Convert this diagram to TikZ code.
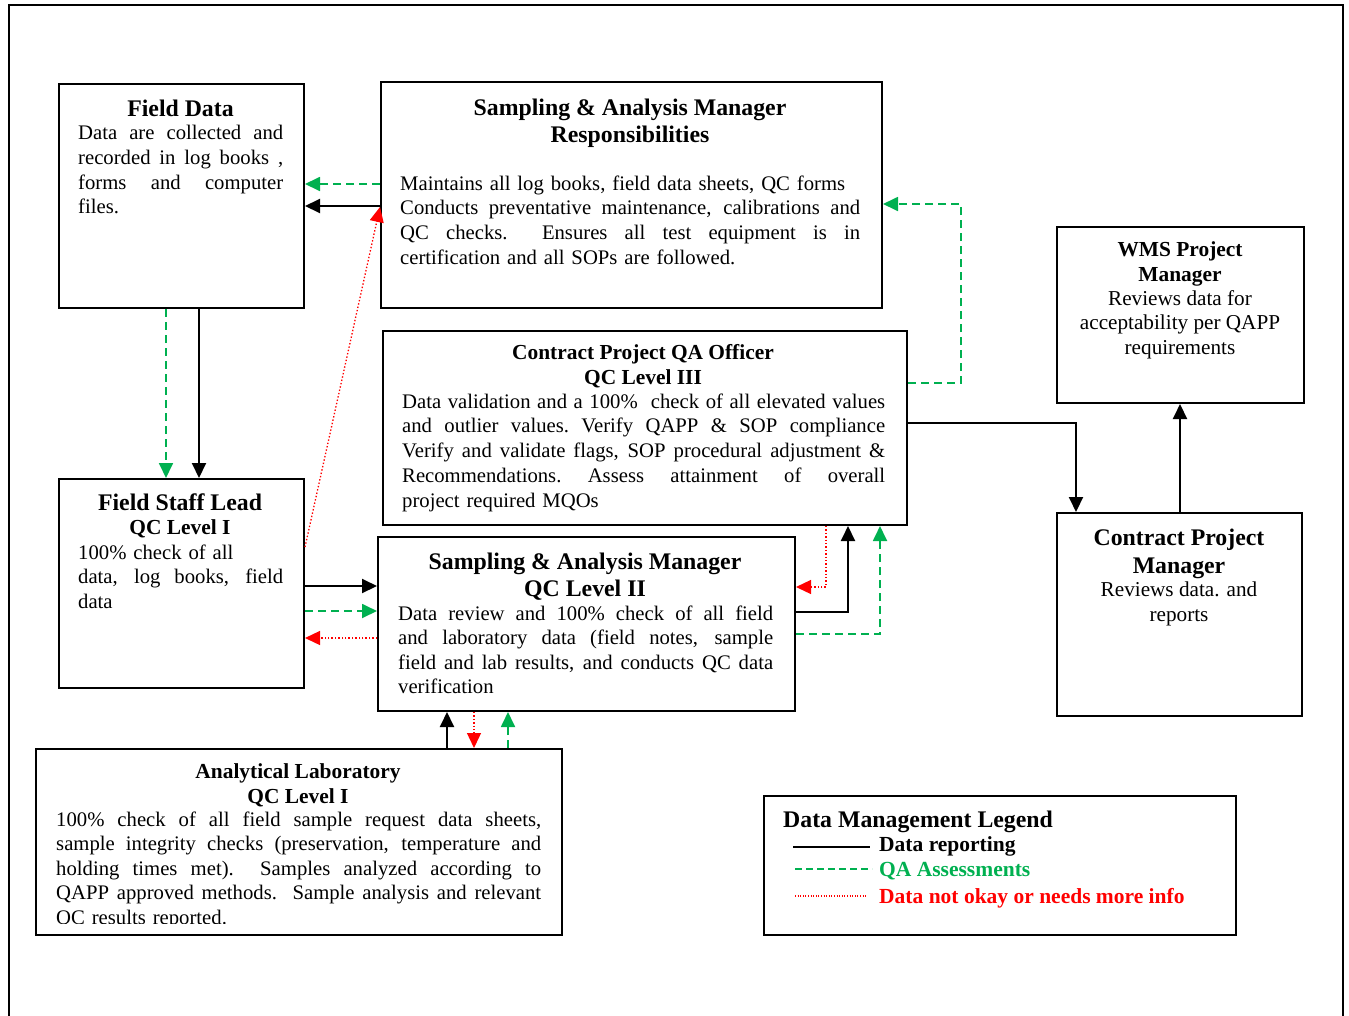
\documentclass[tikz,border=0pt]{standalone}
\usepackage{fontspec}
\setmainfont{Liberation Serif}
\usetikzlibrary{arrows.meta}
\definecolor{qagreen}{RGB}{0,176,80}
\definecolor{nokred}{RGB}{255,0,0}
\def\jw{100pt}
\newcommand\J[1]{\leavevmode\hbox to\jw{\spaceskip=.25em plus 1fil\xspaceskip=.25em plus 1fil\relax #1}}
\tikzset{
  box/.style={draw, line width=2pt, inner sep=0pt, anchor=north west},
  jw/.style={text width=#1, execute at begin node={\def\jw{#1}}},
  txt/.style={inner sep=0pt, anchor=base west, align=left, font=\fontsize{20.7}{24.75}\selectfont},
  ctxt/.style={inner sep=0pt, anchor=base, align=center, font=\fontsize{21.2}{24.75}\selectfont},
  bigb/.style={inner sep=0pt, anchor=base, align=center, font=\fontsize{23.8}{27}\selectfont\bfseries},
  smb/.style={inner sep=0pt, anchor=base, align=center, font=\fontsize{21.4}{24.5}\selectfont\bfseries},
  tip/.style={-{Triangle[length=15pt,width=14pt]}},
  rep/.style={tip, line width=2pt, black},
  qa/.style={tip, line width=1.8pt, qagreen, dash pattern=on 8pt off 5pt},
  nok/.style={tip, line width=1.3pt, nokred, dash pattern=on 1.4pt off 2pt},
}
\begin{document}
\begin{tikzpicture}[x=1pt,y=-1pt]
\useasboundingbox (0,0) rectangle (1349,1015);
% outer frame
\draw[line width=2pt] (9,1030) -- (9,5) -- (1343,5) -- (1343,1030);

% boxes
\node[box, minimum width=245pt, minimum height=224pt] (fd)  at (58,83) {};
\node[box, minimum width=501pt, minimum height=226pt] (sar) at (380,81) {};
\node[box, minimum width=524pt, minimum height=194pt] (qa)  at (382,330) {};
\node[box, minimum width=247pt, minimum height=176pt] (wms) at (1056,226) {};
\node[box, minimum width=245pt, minimum height=203pt] (cpm) at (1056,512) {};
\node[box, minimum width=245pt, minimum height=209pt] (fsl) at (58,478) {};
\node[box, minimum width=417pt, minimum height=174pt] (qc2) at (377,536) {};
\node[box, minimum width=526pt, minimum height=186pt] (lab) at (35,748) {};
\node[box, minimum width=472pt, minimum height=139pt] (leg) at (763,795) {};

% Field Data
\node[bigb] (fdt) at (180.5,116) {Field Data};
\node[txt, jw=205pt] (fdb) at (78,139.5) {\J{Data are collected and}\\\J{recorded in log books ,}\\\J{forms and computer}\\files.};

% Sampling & Analysis Manager Responsibilities
\node[bigb] (sart) at (630,142.5) {Sampling \& Analysis Manager\\Responsibilities};
\node[txt, jw=460pt] (sarb) at (400,190) {Maintains all log books, field data sheets, QC forms\\\J{Conducts preventative maintenance, calibrations and}\\\J{QC checks.\ \ Ensures all test equipment is in}\\certification and all SOPs are followed.};

% Contract Project QA Officer
\node[smb] (qat) at (643,384) {Contract Project QA Officer\\QC Level III};
\node[txt, jw=483pt] (qab) at (402,408) {\J{Data validation and a 100\%\ \ check of all elevated values}\\\J{and outlier values. Verify QAPP \& SOP compliance}\\\J{Verify and validate flags, SOP procedural adjustment \&}\\\J{Recommendations. Assess attainment of overall}\\project required MQOs};

% WMS Project Manager
\node[smb, font=\fontsize{21.4}{25}\selectfont\bfseries] (wmst) at (1180,281) {WMS Project\\Manager};
\node[ctxt] (wmsb) at (1180,354.5) {Reviews data for\\acceptability per QAPP\\requirements};

% Contract Project Manager
\node[bigb, font=\fontsize{23.8}{28}\selectfont\bfseries] (cpmt) at (1179,573.5) {Contract Project\\Manager};
\node[ctxt] (cpmb) at (1179,621.5) {Reviews data. and\\reports};

% Field Staff Lead
\node[bigb] (fslt) at (180,510.5) {Field Staff Lead};
\node[smb] (fsls) at (180,534) {QC Level I};
\node[txt, jw=205pt] (fslb) at (78,559) {100\% check of all\\\J{data, log books, field}\\data};

% Sampling & Analysis Manager QC Level II
\node[bigb] (qc2t) at (585,596.5) {Sampling \& Analysis Manager\\QC Level II};
\node[txt, jw=375pt, font=\fontsize{20.7}{24.5}\selectfont] (qc2b) at (398,620) {\J{Data review and 100\% check of all field}\\\J{and laboratory data (field notes, sample}\\\J{field and lab results, and conducts QC data}\\verification};

% Analytical Laboratory
\node[smb] (labt) at (298,803) {Analytical Laboratory\\QC Level I};
\begin{scope}
\clip (35,748) rectangle (561,923);
\node[txt, jw=485pt, font=\fontsize{20.7}{24.5}\selectfont] (labb) at (56,826) {\J{100\% check of all field sample request data sheets,}\\\J{sample integrity checks (preservation, temperature and}\\\J{holding times met).\ \ Samples analyzed according to}\\\J{QAPP approved methods.\ \ Sample analysis and relevant}\\QC results reported.};
\end{scope}

% Legend
\node[inner sep=0pt, anchor=base west, font=\fontsize{23.8}{27}\selectfont\bfseries] (legt) at (783,827) {Data Management Legend};
\coordinate (l1a) at (793,847); \coordinate (l1b) at (870,847);
\coordinate (l2a) at (795,869); \coordinate (l2b) at (872,869);
\coordinate (l3a) at (795,896); \coordinate (l3b) at (867,896);
\draw[line width=1.8pt] (l1a) -- (l1b);
\draw[line width=1.4pt, qagreen, dash pattern=on 7pt off 4pt] (l2a) -- (l2b);
\draw[line width=1.1pt, nokred, dash pattern=on 1pt off 1.6pt] (l3a) -- (l3b);
\node[inner sep=0pt, anchor=base west, font=\fontsize{21.5}{24}\selectfont\bfseries] (lg1) at (879,851.5) {Data reporting};
\node[inner sep=0pt, anchor=base west, font=\fontsize{21.5}{24}\selectfont\bfseries, text=qagreen] (lg2) at (879,876.5) {QA Assessments};
\node[inner sep=0pt, anchor=base west, font=\fontsize{21.5}{24}\selectfont\bfseries, text=nokred] (lg3) at (879,903.5) {Data not okay or needs more info};

% connectors
\draw[qa]  (sar.west |- 0,184) -- (fd.east |- 0,184);
\draw[rep] (sar.west |- 0,206) -- (fd.east |- 0,206);
\draw[nok] (fsl.east |- 0,547) -- (sar.west |- 0,207);
\draw[qa]  (fd.south -| 166,0) -- (fsl.north -| 166,0);
\draw[rep] (fd.south -| 199,0) -- (fsl.north -| 199,0);
\draw[rep] (fsl.east |- 0,586) -- (qc2.west |- 0,586);
\draw[qa]  (fsl.east |- 0,611) -- (qc2.west |- 0,611);
\draw[nok] (qc2.west |- 0,638) -- (fsl.east |- 0,638);
\draw[nok] (qa.south -| 826,0) |- (qc2.east |- 0,587);
\draw[rep] (qc2.east |- 0,612) -| (qa.south -| 848,0);
\draw[qa]  (qc2.east |- 0,634) -| (qa.south -| 880,0);
\coordinate (qacorner) at (961,383);
\draw[qa]  (qa.east |- qacorner) -- (qacorner) |- (sar.east |- 0,204);
\draw[rep] (qa.east |- 0,423) -| (cpm.north -| 1076,0);
\draw[rep] (cpm.north -| 1180,0) -- (wms.south -| 1180,0);
\draw[rep] (lab.north -| 447,0) -- (qc2.south -| 447,0);
\draw[nok] (qc2.south -| 474,0) -- (lab.north -| 474,0);
\draw[qa]  (lab.north -| 508,0) -- (qc2.south -| 508,0);
\end{tikzpicture}
\end{document}
